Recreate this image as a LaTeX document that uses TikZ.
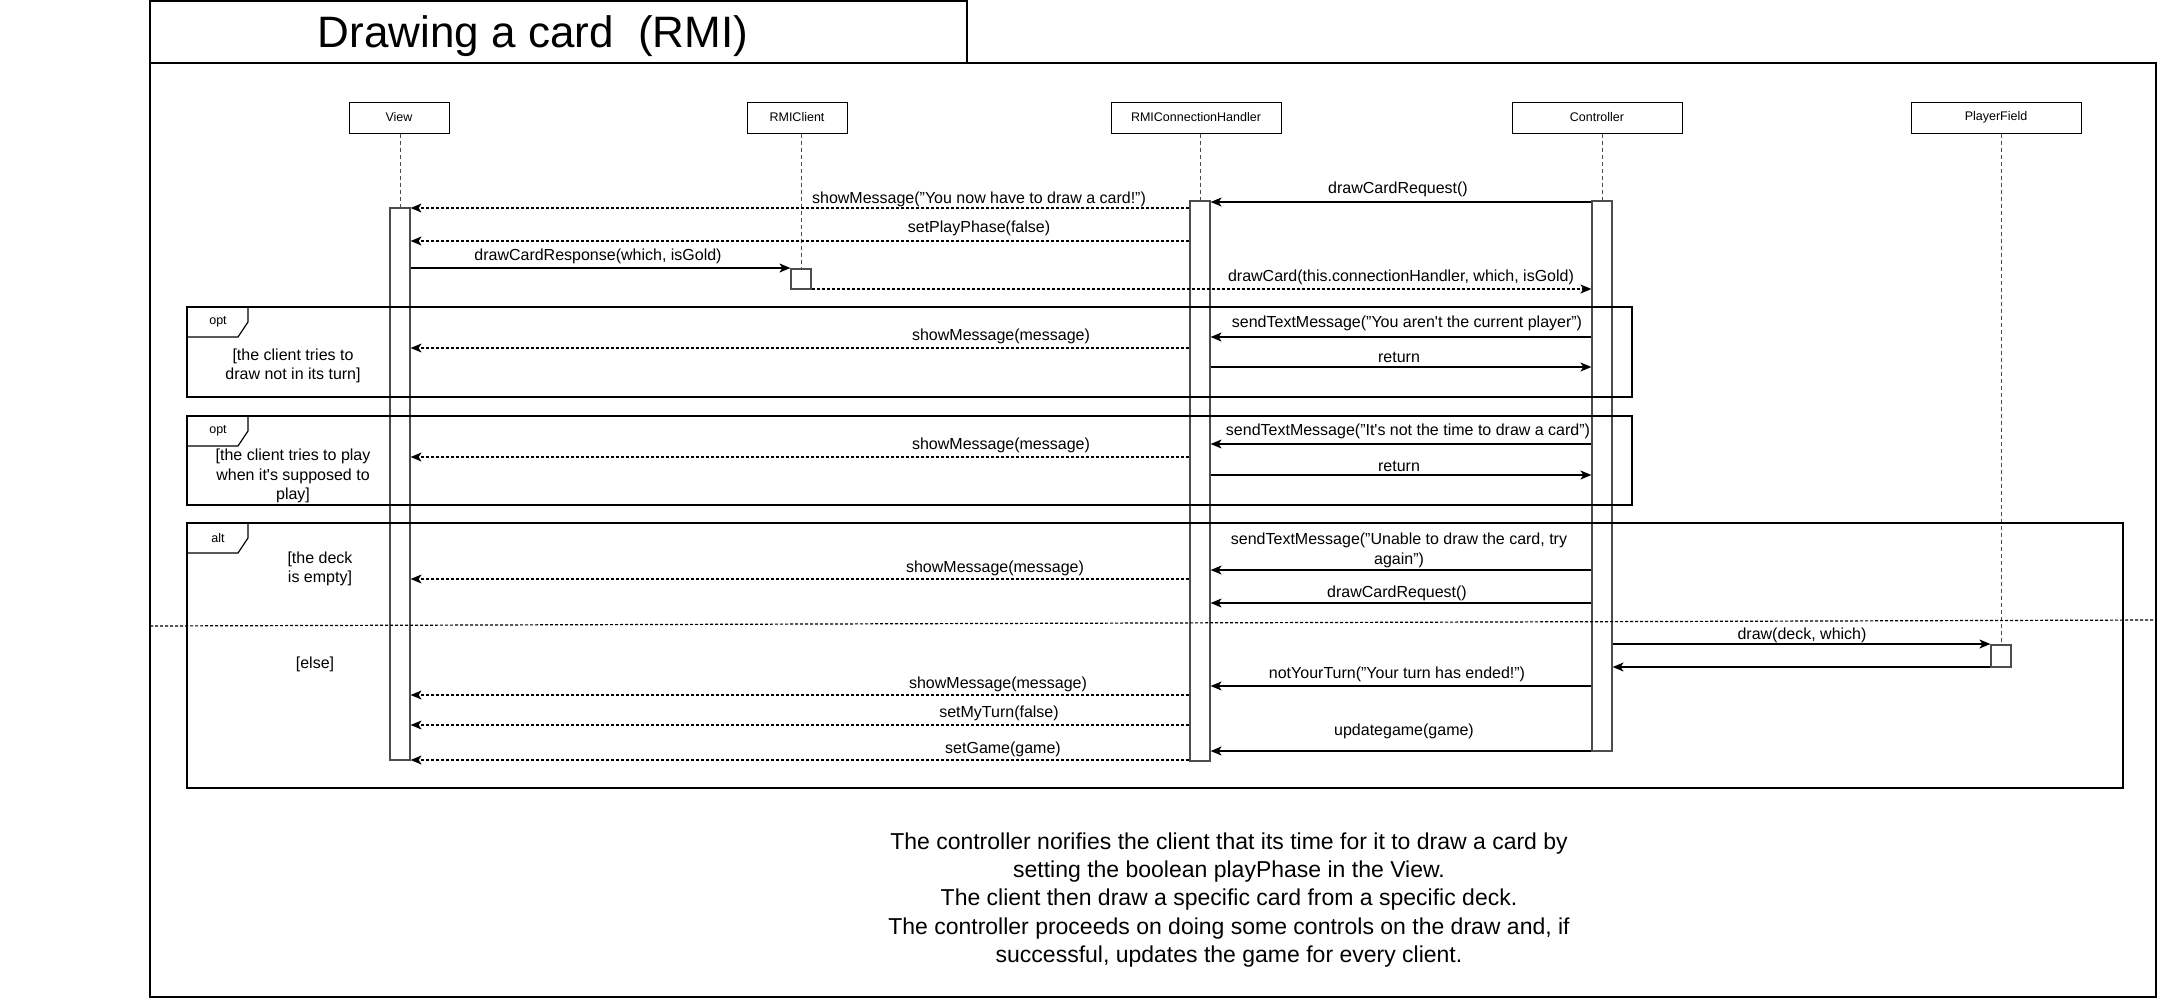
\documentclass[tikz,border=0pt]{standalone}
\usepackage{fontspec}
\setmainfont{Liberation Sans}
\usetikzlibrary{arrows.meta}
\begin{document}
\begin{tikzpicture}[x=1pt,y=-1pt,
  lbl/.style={font=\fontsize{16}{20}\selectfont, inner sep=0pt, align=center, yshift=-2pt},
  head/.style={draw, line width=1pt, minimum height=31pt, inner sep=0pt, font=\fontsize{12.5}{15}\selectfont},
  act/.style={draw=black!70, line width=1.2pt, fill=white, minimum width=20pt, inner sep=0pt},
  life/.style={draw=black!70, line width=1pt, dash pattern=on 4pt off 3pt},
  frame/.style={draw, line width=1.2pt},
  call/.style={line width=1.2pt, -{Stealth[length=11pt,width=9pt,inset=3pt]}},
  reply/.style={call, dash pattern=on 3pt off 2pt},
  guard/.style={font=\fontsize{16}{19.5}\selectfont, align=center, inner sep=0pt},
  tablbl/.style={font=\fontsize{12.5}{15}\selectfont, inner sep=0pt}
]
\useasboundingbox (0,0) rectangle (2157,998);

% outer frame and title
\draw[line width=1.3pt] (150,1) rectangle (967,63);
\draw[line width=1.3pt] (150,63) rectangle (2156,997);
\node[font=\fontsize{44}{50}\selectfont, inner sep=0pt] (title) at (533,36) {Drawing a card~ (RMI)};

% lifeline heads
\node[head, minimum width=100pt] (view) at (399,117.5) {View};
\node[head, minimum width=100pt] (rmic) at (797,117.5) {RMIClient};
\node[head, minimum width=170pt] (rch) at (1196,117.5) {RMIConnectionHandler};
\node[head, minimum width=170pt] (ctl) at (1597,117.5) {Controller};
\node[head, minimum width=170pt] (pf) at (1996,117.5) {PlayerField};

% activations
\node[act, minimum height=552pt] (aview) at (400,484) {};
\node[act, minimum height=20pt] (armic) at (801,279) {};
\node[act, minimum height=560pt] (arch) at (1200,481) {};
\node[act, minimum height=550pt] (actl) at (1602,476) {};
\node[act, minimum height=22pt] (apf) at (2001,656) {};

% lifelines
\draw[life] (aview.north |- view.south) -- (aview.north);
\draw[life] (armic.north |- rmic.south) -- (armic.north);
\draw[life] (arch.north |- rch.south) -- (arch.north);
\draw[life] (actl.north |- ctl.south) -- (actl.north);
\draw[life] (apf.north |- pf.south) -- (apf.north);

% combined fragments
\draw[frame] (187,307) rectangle (1632,397);
\draw[frame] (187,307) -- (248,307) -- (248,322) -- (238,337) -- (187,337);
\node[tablbl] (t1) at (218,322) {opt};
\node[guard] (g1) at (293,366) {[the client tries to\\draw not in its turn]};

\draw[frame] (187,416) rectangle (1632,505);
\draw[frame] (187,416) -- (248,416) -- (248,431) -- (238,446) -- (187,446);
\node[tablbl] (t2) at (218,431) {opt};
\node[guard] (g2) at (293,476) {[the client tries to play\\when it\textquotesingle s supposed to\\play]};

\draw[frame] (187,523) rectangle (2123,788);
\draw[frame] (187,523) -- (248,523) -- (248,538) -- (238,553) -- (187,553);
\node[tablbl] (t3) at (218,538) {alt};
\node[guard] (g3) at (320,569) {[the deck\\is empty]};
\node[guard] (g4) at (315,664) {[else]};
\draw[line width=1.2pt, dash pattern=on 3pt off 2pt] (150,626) -- (2157,620);

% messages
\draw[call] (actl.west |- 0,202) -- (arch.east |- 0,202);
\node[lbl] (m1) at (1398,187) {drawCardRequest()};
\draw[reply] (arch.west |- 0,208) -- (aview.east |- 0,208);
\node[lbl] (m2) at (979,197) {showMessage("You now have to draw a card!")};
\draw[reply] (arch.west |- 0,241) -- (aview.east |- 0,241);
\node[lbl] (m3) at (979,226) {setPlayPhase(false)};
\draw[call] (aview.east |- 0,268) -- (armic.west |- 0,268);
\node[lbl] (m4) at (598,254) {drawCardResponse(which, isGold)};
\draw[reply] (armic.east |- 0,289) -- (actl.west |- 0,289);
\node[lbl] (m5) at (1401,275) {drawCard(this.connectionHandler, which, isGold)};

\draw[call] (actl.west |- 0,337) -- (arch.east |- 0,337);
\node[lbl] (m6) at (1407,321) {sendTextMessage("You aren\textquotesingle t the current player")};
\draw[reply] (arch.west |- 0,348) -- (aview.east |- 0,348);
\node[lbl] (m7) at (1001,334) {showMessage(message)};
\draw[call] (arch.east |- 0,367) -- (actl.west |- 0,367);
\node[lbl] (m8) at (1399,355) {return};

\draw[call] (actl.west |- 0,444) -- (arch.east |- 0,444);
\node[lbl] (m9) at (1408,429) {sendTextMessage("It\textquotesingle s not the time to draw a card")};
\draw[reply] (arch.west |- 0,457) -- (aview.east |- 0,457);
\node[lbl] (m10) at (1001,443) {showMessage(message)};
\draw[call] (arch.east |- 0,475) -- (actl.west |- 0,475);
\node[lbl] (m11) at (1399,464) {return};

\draw[call] (actl.west |- 0,570) -- (arch.east |- 0,570);
\node[lbl] (m12) at (1399,548) {sendTextMessage("Unable to draw the card, try\\again")};
\draw[reply] (arch.west |- 0,579) -- (aview.east |- 0,579);
\node[lbl] (m13) at (995,566) {showMessage(message)};
\draw[call] (actl.west |- 0,603) -- (arch.east |- 0,603);
\node[lbl] (m14) at (1397,591) {drawCardRequest()};
\draw[call] (actl.east |- 0,644) -- (apf.west |- 0,644);
\node[lbl] (m15) at (1802,633) {draw(deck, which)};
\draw[call] (apf.west |- 0,667) -- (actl.east |- 0,667);
\draw[call] (actl.west |- 0,686) -- (arch.east |- 0,686);
\node[lbl] (m16) at (1397,672) {notYourTurn("Your turn has ended!")};
\draw[reply] (arch.west |- 0,695) -- (aview.east |- 0,695);
\node[lbl] (m17) at (998,682) {showMessage(message)};
\draw[reply] (arch.west |- 0,725) -- (aview.east |- 0,725);
\node[lbl] (m18) at (999,711) {setMyTurn(false)};
\draw[call] (actl.west |- 0,751) -- (arch.east |- 0,751);
\node[lbl] (m19) at (1404,729) {updategame(game)};
\draw[reply] (arch.west |- 0,760) -- (aview.east |- 0,760);
\node[lbl] (m20) at (1003,747) {setGame(game)};

% note
\node[font=\fontsize{23}{28.3}\selectfont, align=center, inner sep=0pt] (note) at (1229,900)
 {The controller norifies the client that its time for it to draw a card by\\setting the boolean playPhase in the View.\\The client then draw a specific card from a specific deck.\\The controller proceeds on doing some controls on the draw and, if\\successful, updates the game for every client.};
\end{tikzpicture}
\end{document}
